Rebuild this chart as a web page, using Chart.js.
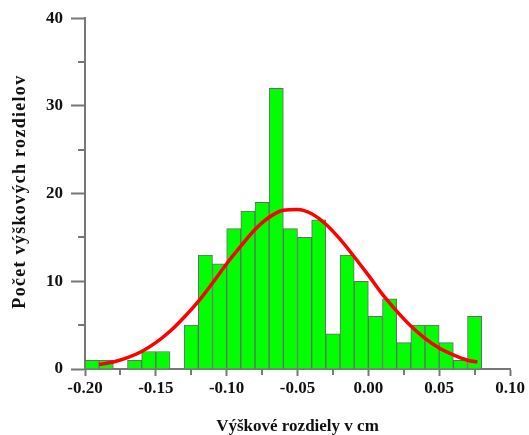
<!DOCTYPE html>
<html>
<head>
<meta charset="utf-8">
<script src="https://cdn.jsdelivr.net/npm/chart.js@4.4.1/dist/chart.umd.min.js"></script>
<style>
  html, body { margin: 0; padding: 0; background: #fff; }
  canvas { display: block; }
</style>
</head>
<body>
<canvas id="histChart" width="529" height="435"></canvas>
<script>
// --- data ---
const binCenters = [-0.195, -0.185, -0.175, -0.165, -0.155, -0.145, -0.135, -0.125, -0.115, -0.105,
                    -0.095, -0.085, -0.075, -0.065, -0.055, -0.045, -0.035, -0.025, -0.015, -0.005,
                     0.005,  0.015,  0.025,  0.035,  0.045,  0.055,  0.065,  0.075];
const counts = [1, 1, 0, 1, 2, 2, 0, 5, 13, 12,
                16, 18, 19, 32, 16, 15, 17, 4, 13, 10,
                6, 8, 3, 5, 5, 3, 1, 6];

// red fitted curve
const curveX = [-0.19, -0.18, -0.17, -0.16, -0.15, -0.14, -0.13, -0.12, -0.11, -0.10,
                -0.09, -0.08, -0.07, -0.06, -0.05, -0.04, -0.03, -0.02, -0.01, 0.00,
                 0.01,  0.02,  0.03,  0.04,  0.05,  0.06,  0.07,  0.077];
const curveY = [0.5, 0.8, 1.3, 2.0, 3.0, 4.3, 5.9, 7.7, 9.8, 12.0,
                14.0, 15.9, 17.3, 18.1, 18.2, 17.7, 16.5, 14.8, 12.8, 10.7,
                8.5, 6.6, 4.9, 3.5, 2.4, 1.6, 1.0, 0.8];

const xTicks = [-0.20, -0.15, -0.10, -0.05, 0.00, 0.05, 0.10];
const yTicks = [0, 10, 20, 30, 40];

const xTitle = 'Výškové rozdiely v cm';
const yTitle = 'Počet výškových rozdielov';

const AXIS_COLOR = '#777';
const FONT = "'Liberation Serif', 'Times New Roman', serif";

// minor ticks halfway between the major ones + rotated y title
const extrasPlugin = {
    id: 'extras',
    afterDraw(chart) {
        const ctx = chart.ctx;
        const xs = chart.scales.x;
        const ys = chart.scales.y;
        ctx.save();
        ctx.strokeStyle = AXIS_COLOR;
        ctx.lineWidth = 2;

        for (let i = 0; i < yTicks.length - 1; i++) {
            const py = Math.round(ys.getPixelForValue((yTicks[i] + yTicks[i + 1]) / 2));
            ctx.beginPath();
            ctx.moveTo(ys.right - 7, py);
            ctx.lineTo(ys.right, py);
            ctx.stroke();
        }
        for (let i = 0; i < xTicks.length - 1; i++) {
            const px = Math.round(xs.getPixelForValue((xTicks[i] + xTicks[i + 1]) / 2));
            ctx.beginPath();
            ctx.moveTo(px, xs.top);
            ctx.lineTo(px, xs.top + 6);
            ctx.stroke();
        }

        // y title (spaced out like the original)
        const cy = (chart.chartArea.top + chart.chartArea.bottom) / 2 - 2;
        ctx.translate(20, cy);
        ctx.rotate(-Math.PI / 2);
        ctx.font = `bold 18px ${FONT}`;
        ctx.fillStyle = '#111';
        ctx.textAlign = 'center';
        ctx.textBaseline = 'middle';
        if ('letterSpacing' in ctx) ctx.letterSpacing = '1.3px';
        ctx.fillText(yTitle, 0, 0);
        ctx.restore();
    }
};

const initChart = () => {
    const ctx = document.getElementById('histChart').getContext('2d');

    const barData = binCenters.map((x, i) => ({ x: x, y: counts[i] === 0 ? null : counts[i] }));
    const lineData = curveX.map((x, i) => ({ x: x, y: curveY[i] }));

    new Chart(ctx, {
        type: 'bar',
        data: {
            datasets: [{
                type: 'bar',
                data: barData,
                backgroundColor: '#00ff00',
                borderColor: '#6a6a6a',
                borderWidth: 1,
                barPercentage: 1,
                categoryPercentage: 1,
                order: 2
            }, {
                type: 'line',
                data: lineData,
                borderColor: '#ff0000',
                borderWidth: 3.5,
                pointRadius: 0,
                fill: false,
                tension: 0.4,
                cubicInterpolationMode: 'monotone',
                order: 1
            }]
        },
        options: {
            responsive: false,
            devicePixelRatio: 1,
            animation: false,
            layout: { padding: { top: 17, right: 19, left: 0, bottom: 0 } },
            plugins: {
                legend: { display: false },
                tooltip: { enabled: false }
            },
            scales: {
                x: {
                    type: 'linear',
                    min: -0.2,
                    max: 0.1,
                    offset: false,
                    afterBuildTicks: (scale) => { scale.ticks = xTicks.map(v => ({ value: v })); },
                    afterFit: (scale) => { scale.height = 66; },
                    grid: {
                        offset: false,
                        drawOnChartArea: false,
                        drawTicks: true,
                        tickLength: 7,
                        tickWidth: 2,
                        tickColor: AXIS_COLOR
                    },
                    border: { display: true, color: AXIS_COLOR, width: 2 },
                    ticks: {
                        autoSkip: false,
                        maxRotation: 0,
                        padding: 2,
                        color: '#111',
                        font: { family: FONT, size: 17, weight: 'bold' },
                        callback: (v) => (Math.abs(v) < 1e-9 ? 0 : v).toFixed(2)
                    },
                    title: {
                        display: true,
                        text: xTitle,
                        color: '#111',
                        font: { family: FONT, size: 17, weight: 'bold', lineHeight: 1 },
                        padding: { top: 0, bottom: 0 }
                    }
                },
                y: {
                    min: 0,
                    max: 40,
                    afterBuildTicks: (scale) => { scale.ticks = yTicks.map(v => ({ value: v })); },
                    afterFit: (scale) => { scale.width = 85; },
                    grid: {
                        drawOnChartArea: false,
                        drawTicks: true,
                        tickLength: 14,
                        tickWidth: 2,
                        tickColor: AXIS_COLOR
                    },
                    border: { display: true, color: AXIS_COLOR, width: 2 },
                    ticks: {
                        padding: 8,
                        color: '#111',
                        font: { family: FONT, size: 17, weight: 'bold' }
                    }
                }
            }
        },
        plugins: [extrasPlugin]
    });
};

initChart();
</script>
</body>
</html>
